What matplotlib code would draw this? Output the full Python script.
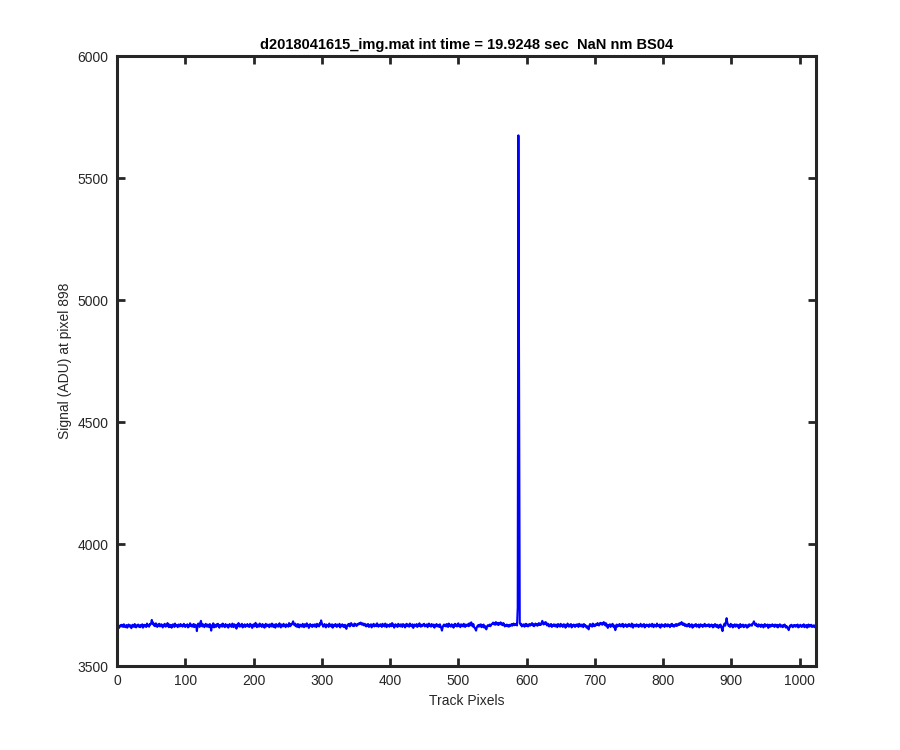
import numpy as np
import matplotlib
matplotlib.use("Agg")
import matplotlib.pyplot as plt

# Signal values, one per track pixel (1..1024)
signal = [
    3658, 3661, 3656, 3663, 3667, 3662, 3669, 3664, 3660, 3671, 3666, 3659, 3664, 3668, 3657, 3662,
    3670, 3665, 3661, 3667, 3655, 3663, 3669, 3666, 3660, 3672, 3664, 3658, 3667, 3663, 3670, 3661,
    3666, 3659, 3668, 3663, 3671, 3657, 3665, 3669, 3662, 3667, 3660, 3674, 3664, 3668, 3661, 3672,
    3670, 3676, 3689, 3673, 3678, 3666, 3671, 3663, 3675, 3668, 3660, 3670, 3665, 3673, 3662, 3667,
    3671, 3664, 3658, 3669, 3666, 3673, 3661, 3667, 3663, 3676, 3665, 3659, 3670, 3662, 3668, 3657,
    3664, 3671, 3666, 3660, 3674, 3663, 3668, 3665, 3659, 3670, 3667, 3662, 3672, 3664, 3669, 3661,
    3666, 3673, 3663, 3660, 3668, 3664, 3671, 3658, 3667, 3662, 3675, 3665, 3669, 3661, 3666, 3672,
    3659, 3670, 3663, 3667, 3643, 3664, 3674, 3666, 3660, 3678, 3685, 3668, 3662, 3671, 3665, 3659,
    3668, 3673, 3664, 3661, 3670, 3666, 3659, 3672, 3663, 3645, 3667, 3662, 3675, 3658, 3669, 3664,
    3660, 3671, 3666, 3673, 3662, 3657, 3668, 3665, 3670, 3661, 3674, 3663, 3667, 3659, 3672, 3665,
    3662, 3669, 3657, 3666, 3672, 3663, 3668, 3660, 3674, 3665, 3659, 3671, 3664, 3667, 3653, 3670,
    3662, 3676, 3666, 3661, 3669, 3664, 3673, 3658, 3667, 3663, 3671, 3660, 3668, 3665, 3672, 3662,
    3667, 3660, 3673, 3664, 3669, 3656, 3665, 3671, 3662, 3668, 3677, 3663, 3659, 3670, 3666, 3661,
    3674, 3665, 3668, 3660, 3672, 3663, 3669, 3657, 3666, 3673, 3662, 3667, 3670, 3664, 3659, 3671,
    3665, 3662, 3674, 3668, 3660, 3670, 3666, 3657, 3672, 3664, 3669, 3661, 3667, 3675, 3663, 3658,
    3670, 3666, 3662, 3673, 3665, 3668, 3659, 3671, 3664, 3667, 3661, 3676, 3669, 3663, 3672, 3670,
    3676, 3683, 3671, 3667, 3674, 3663, 3669, 3660, 3672, 3666, 3658, 3670, 3664, 3668, 3661, 3673,
    3665, 3659, 3671, 3667, 3662, 3675, 3664, 3669, 3656, 3666, 3672, 3663, 3668, 3660, 3670, 3665,
    3662, 3671, 3667, 3659, 3673, 3664, 3669, 3662, 3675, 3670, 3687, 3676, 3668, 3661, 3666, 3672,
    3663, 3658, 3670, 3665, 3668, 3660, 3674, 3664, 3667, 3662, 3671, 3657, 3666, 3669, 3663, 3672,
    3665, 3660, 3670, 3667, 3663, 3673, 3658, 3668, 3664, 3671, 3662, 3666, 3659, 3669, 3661, 3652,
    3664, 3670, 3666, 3673, 3662, 3668, 3676, 3671, 3665, 3669, 3663, 3674, 3667, 3671, 3664, 3669,
    3673, 3670, 3676, 3672, 3678, 3674, 3669, 3675, 3671, 3666, 3673, 3668, 3662, 3670, 3665, 3672,
    3660, 3667, 3664, 3671, 3658, 3669, 3665, 3673, 3662, 3668, 3670, 3663, 3675, 3666, 3661, 3669,
    3664, 3671, 3667, 3660, 3673, 3665, 3669, 3662, 3674, 3666, 3659, 3670, 3664, 3668, 3661, 3672,
    3667, 3663, 3676, 3665, 3670, 3657, 3666, 3671, 3663, 3668, 3660, 3673, 3665, 3669, 3662, 3671,
    3666, 3660, 3672, 3664, 3669, 3658, 3667, 3673, 3663, 3670, 3665, 3661, 3674, 3666, 3669, 3662,
    3671, 3656, 3665, 3670, 3667, 3663, 3672, 3660, 3668, 3664, 3675, 3666, 3661, 3669, 3663, 3670,
    3667, 3673, 3662, 3668, 3665, 3671, 3659, 3666, 3674, 3664, 3669, 3661, 3672, 3666, 3663, 3670,
    3657, 3668, 3665, 3672, 3662, 3669, 3664, 3660, 3671, 3663, 3655, 3645, 3658, 3666, 3670, 3664,
    3669, 3662, 3672, 3666, 3660, 3674, 3665, 3668, 3661, 3671, 3663, 3669, 3657, 3667, 3673, 3664,
    3670, 3662, 3666, 3675, 3663, 3668, 3659, 3671, 3665, 3669, 3662, 3673, 3666, 3660, 3670, 3664,
    3668, 3671, 3663, 3675, 3666, 3670, 3679, 3668, 3662, 3672, 3660, 3656, 3651, 3645, 3658, 3664,
    3667, 3661, 3669, 3663, 3671, 3659, 3666, 3662, 3670, 3657, 3664, 3660, 3650, 3661, 3667, 3663,
    3666, 3670, 3663, 3668, 3672, 3674, 3678, 3671, 3676, 3669, 3680, 3673, 3670, 3677, 3668, 3675,
    3672, 3679, 3670, 3674, 3667, 3676, 3671, 3662, 3668, 3665, 3670, 3663, 3667, 3661, 3669, 3664,
    3668, 3672, 3665, 3670, 3674, 3667, 3671, 3669, 3673, 3666, 3740, 5675, 4720, 3677, 3670, 3673,
    3662, 3669, 3665, 3671, 3661, 3667, 3673, 3664, 3670, 3662, 3668, 3672, 3665, 3670, 3669, 3676,
    3666, 3671, 3663, 3669, 3674, 3667, 3672, 3665, 3670, 3676, 3668, 3673, 3669, 3677, 3685, 3674,
    3670, 3678, 3672, 3680, 3671, 3666, 3674, 3668, 3662, 3670, 3665, 3672, 3660, 3668, 3664, 3671,
    3667, 3662, 3670, 3665, 3659, 3672, 3666, 3669, 3661, 3673, 3664, 3668, 3660, 3671, 3665, 3670,
    3657, 3667, 3663, 3674, 3666, 3661, 3669, 3664, 3672, 3658, 3668, 3663, 3670, 3666, 3660, 3669,
    3664, 3671, 3667, 3660, 3673, 3665, 3669, 3662, 3670, 3666, 3659, 3672, 3664, 3668, 3661, 3657,
    3663, 3655, 3650, 3666, 3672, 3664, 3669, 3661, 3674, 3667, 3663, 3670, 3665, 3672, 3668, 3676,
    3670, 3666, 3673, 3677, 3671, 3675, 3669, 3674, 3680, 3672, 3667, 3676, 3663, 3670, 3656, 3668,
    3664, 3671, 3660, 3669, 3665, 3673, 3662, 3658, 3666, 3647, 3663, 3670, 3661, 3667, 3664, 3672,
    3667, 3662, 3670, 3665, 3673, 3659, 3668, 3664, 3671, 3666, 3660, 3669, 3663, 3672, 3665, 3668,
    3661, 3674, 3666, 3657, 3670, 3664, 3668, 3662, 3671, 3665, 3669, 3660, 3667, 3663, 3673, 3666,
    3661, 3669, 3664, 3672, 3658, 3667, 3663, 3670, 3665, 3668, 3660, 3671, 3664, 3669, 3662, 3673,
    3666, 3659, 3670, 3665, 3668, 3661, 3674, 3664, 3667, 3662, 3670, 3657, 3666, 3671, 3663, 3668,
    3665, 3660, 3672, 3666, 3669, 3662, 3671, 3664, 3668, 3659, 3670, 3665, 3673, 3663, 3667, 3661,
    3669, 3666, 3672, 3664, 3670, 3667, 3674, 3669, 3676, 3671, 3680, 3673, 3668, 3675, 3670, 3664,
    3671, 3667, 3662, 3670, 3665, 3673, 3660, 3668, 3664, 3671, 3657, 3666, 3662, 3669, 3665, 3672,
    3661, 3667, 3663, 3670, 3658, 3666, 3671, 3664, 3668, 3660, 3669, 3665, 3673, 3662, 3667, 3663,
    3669, 3664, 3671, 3660, 3667, 3663, 3670, 3665, 3658, 3668, 3662, 3672, 3666, 3660, 3669, 3664,
    3656, 3667, 3661, 3670, 3663, 3652, 3643, 3660, 3668, 3674, 3665, 3679, 3696, 3678, 3671, 3664,
    3668, 3660, 3673, 3665, 3669, 3658, 3667, 3663, 3671, 3661, 3666, 3670, 3662, 3668, 3655, 3664,
    3672, 3660, 3667, 3663, 3670, 3659, 3666, 3662, 3669, 3664, 3657, 3667, 3661, 3671, 3665, 3668,
    3670, 3665, 3673, 3676, 3683, 3672, 3667, 3674, 3664, 3669, 3661, 3671, 3665, 3668, 3660, 3670,
    3663, 3667, 3658, 3666, 3672, 3662, 3668, 3664, 3670, 3656, 3665, 3669, 3661, 3667, 3663, 3671,
    3664, 3668, 3660, 3670, 3665, 3662, 3669, 3658, 3666, 3663, 3671, 3661, 3667, 3664, 3659, 3668,
    3662, 3670, 3665, 3657, 3663, 3660, 3654, 3647, 3658, 3666, 3662, 3669, 3664, 3659, 3667, 3663,
    3668, 3661, 3666, 3663, 3670, 3658, 3665, 3662, 3669, 3664, 3660, 3667, 3663, 3671, 3659, 3666,
    3662, 3668, 3657, 3664, 3670, 3661, 3666, 3663, 3669, 3660, 3665, 3662, 3667, 3659, 3664, 3662,
]
pixels = np.arange(1, len(signal) + 1)

x_ticks = list(range(0, 1001, 100))
y_ticks = list(range(3500, 6001, 500))

title = "d2018041615_img.mat int time = 19.9248 sec  NaN nm BS04"

plt.rcParams['font.family'] = ['Liberation Sans', 'DejaVu Sans']

fig = plt.figure(figsize=(9, 7.5), dpi=100)
ax = fig.add_axes([0.13, 0.112, 0.7767, 0.8133])

ax.plot(pixels, signal, color=(0, 0, 1), lw=1.5)

ax.set_xlim(0, 1024)
ax.set_ylim(3500, 6000)
ax.set_xticks(x_ticks)
ax.set_yticks(y_ticks)

dark = '#262626'
for sp in ax.spines.values():
    sp.set_linewidth(2.2)
    sp.set_color(dark)
ax.tick_params(direction='in', length=6, width=2, colors=dark,
               labelsize=10, top=True, right=True, pad=6)

ax.set_xlabel("Track Pixels", fontsize=10, color=dark)
ax.set_ylabel("Signal (ADU) at pixel 898", fontsize=10, color=dark)
ax.set_title(title, fontsize=10.5, fontweight='bold', color='black', pad=5)

fig.savefig("out.png", dpi=100)
